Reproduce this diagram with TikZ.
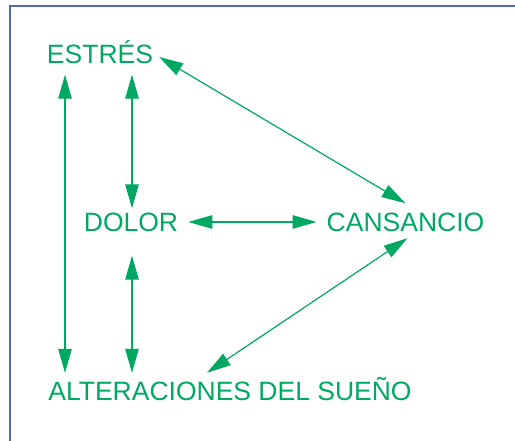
\documentclass[tikz,border=0pt]{standalone}
\usepackage{fontspec}
\setmainfont{Liberation Sans}
\usepackage{tikz}
\definecolor{leafgreen}{HTML}{00A862}
\definecolor{frameblue}{HTML}{5468BC}
\usetikzlibrary{positioning, calc, arrows.meta}
\tikzstyle{arrow} = [line width=1.2pt,{Triangle[length=24pt,width=13.5pt]}-{Triangle[length=24pt,width=13.5pt]}]

\begin{document}
\begin{tikzpicture}[x=1pt,y=1pt]
                \tikzstyle{every node}=[font=\fontsize{26.5}{30}\selectfont]
                \tikzstyle{concept} = [text=leafgreen, inner sep=0pt, text height=19pt, text depth=0pt]
                \tikzstyle{link} = [arrow, draw=leafgreen, fill=leafgreen]

                \useasboundingbox (0,0) rectangle (515,441);
                \draw[frameblue, line width=2pt] (10,0) -- (10,435) -- (515,435);

                \node[concept](estres) at (100,387) {ESTRÉS};
                \node[concept](dolor) at (131,219) {DOLOR};
                \node[concept](cansancio) at (405.5,219) {CANSANCIO};
                \node[concept](alter) at (230,49.5) {ALTERACIONES DEL SUEÑO};

                \draw[link] ($(estres.south)+(-35,-11)$) -- ($(alter.north)+(-165,9)$);
                \draw[link] ($(estres.south)+(32,-11)$) -- ($(dolor.north)+(1,4)$);
                \draw[link] ($(dolor.south)+(1,-24)$) -- ($(alter.north)+(-98,9)$);
                \draw[link] ($(dolor.east)+(10,0)$) -- ($(cansancio.west)+(-10,0)$);
                \draw[link] ($(estres.east)+(6,-3)$) -- ($(cansancio.north)+(0,9)$);
                \draw[link] ($(cansancio.south)+(2,-6.5)$) -- ($(alter.north)+(-23,9)$);

        \end{tikzpicture}
\end{document}
